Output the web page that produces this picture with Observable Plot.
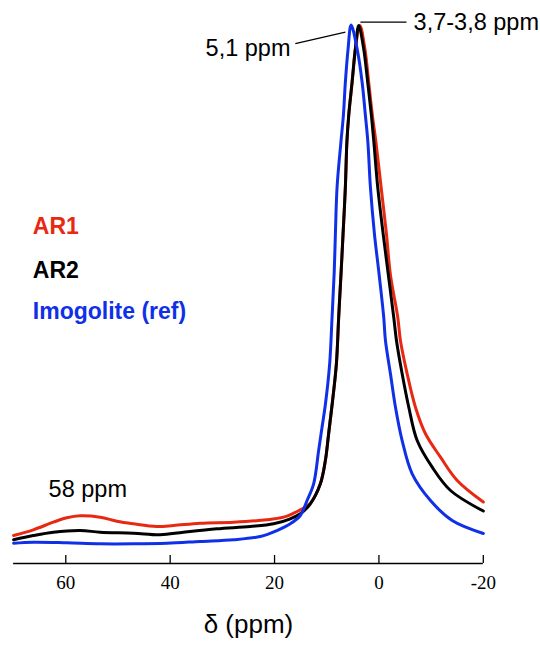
<!DOCTYPE html>
<html><head><meta charset="utf-8">
<script src="https://cdn.jsdelivr.net/npm/d3@7"></script>
<script src="https://cdn.jsdelivr.net/npm/@observablehq/plot@0.6"></script>
<style>body{margin:0;background:#fff}</style>
</head><body><div id="chart"></div>
<script>
// Chemical shift (ppm) and normalized intensity
const ar1Ppm = [70, 66.22, 62.38, 59.81, 57.26, 53.42, 50.22, 47.04, 42.55, 39.36, 34.24, 27.85, 21.45, 18.26, 16.34, 15.06, 13.14, 11.22, 10.26, 9.63, 8.92, 8.15, 7.71, 7.25, 6.87, 6.43, 6.14, 5.79, 5.14, 4.51, 3.64, 2.69, 1.96, 1.25, 0.58, -0.42, -1.44, -2.2, -3.61, -4.12, -5.41, -7.0, -8.92, -11.8, -15.0, -20];
const ar1Int = [5.20, 6.26, 7.68, 8.49, 8.87, 8.61, 7.86, 7.38, 6.88, 7.06, 7.49, 7.68, 8.12, 8.61, 9.35, 9.98, 11.2, 14.81, 19.14, 24.16, 29.93, 37.12, 45.78, 54.09, 61.28, 69.94, 78.25, 83.27, 89.46, 95.67, 100, 95.67, 89.46, 83.27, 78.4, 69.94, 61.28, 53.7, 45.78, 41.45, 35.26, 29.05, 24.11, 19.76, 15.43, 11.43];

const ar2Ppm = [70, 66.22, 62.38, 57.26, 53.42, 47.04, 41.91, 37.45, 31.04, 24.65, 20.18, 16.98, 15.06, 13.14, 11.22, 10.26, 9.63, 8.92, 8.15, 7.71, 7.25, 6.87, 6.43, 6.14, 5.79, 5.14, 4.51, 3.87, 2.92, 2.15, 1.44, 0.96, 0.23, -0.81, -1.82, -2.84, -3.36, -4.45, -5.72, -7.33, -10.21, -13.72, -20];
const ar2Int = [4.41, 5.20, 5.82, 6.13, 5.82, 5.63, 5.33, 5.82, 6.45, 6.88, 7.38, 8.31, 9.24, 11.10, 14.81, 19.14, 24.16, 29.93, 37.12, 45.78, 54.09, 61.28, 69.94, 78.25, 83.27, 89.46, 95.67, 100, 95.67, 89.46, 83.27, 78.25, 69.94, 61.28, 53.53, 45.78, 41.45, 35.26, 29.05, 22.86, 17.90, 13.57, 9.76];

const imoPpm = [70, 66.22, 59.81, 53.42, 47.04, 40.63, 34.24, 27.85, 22.73, 19.53, 16.98, 15.06, 13.77, 12.51, 11.55, 10.90, 10.26, 9.44, 8.98, 8.57, 8.34, 8.02, 7.29, 6.81, 6.43, 5.91, 5.33, 4.18, 3.22, 2.59, 2.11, 1.63, 0.86, -0.06, -0.92, -1.25, -2.21, -3.17, -4.45, -6.37, -9.88, -14.04, -20];
const imoInt = [3.77, 3.96, 3.85, 3.66, 3.66, 3.77, 4.09, 4.41, 5.02, 6.13, 7.38, 8.92, 11.71, 14.81, 21.0, 25.33, 29.55, 37.12, 45.78, 54.09, 61.28, 69.94, 78.25, 83.27, 89.46, 95.67, 100.1, 95.67, 89.46, 83.27, 78.25, 69.94, 61.28, 53.53, 45.78, 41.45, 35.26, 29.05, 22.86, 16.67, 11.71, 7.99, 5.58];

const seriesNames = ["AR1", "AR2", "Imogolite (ref)"];
const seriesColors = ["#e82810", "#000000", "#1030e8"];
const xTicks = [60, 40, 20, 0, -20];

const rows = [];
[[ar1Ppm, ar1Int], [ar2Ppm, ar2Int], [imoPpm, imoInt]].forEach(([p, v], k) => {
  p.forEach((ppm, i) => rows.push({series: seriesNames[k], ppm, intensity: v[i]}));
});

const sans = "Liberation Sans, Arial, sans-serif";
const serif = "Liberation Serif, Times New Roman, serif";

const label = (text, dx, dy, opts = {}) => Plot.text([text], {
  frameAnchor: "top-left", dx, dy, lineAnchor: "middle", textAnchor: "start",
  fontFamily: sans, fontSize: 23.5, fill: "#000", ...opts
});

const chart = Plot.plot({
  width: 540,
  height: 648,
  marginLeft: 13.1,
  marginRight: 57.2,
  marginTop: 25,
  marginBottom: 85,
  style: {fontFamily: serif, fontSize: "19px", background: "#fff", color: "#000"},
  x: {domain: [70, -20], ticks: xTicks, tickSize: 0, tickPadding: 12, tickFormat: d => String(d), label: null},
  y: {domain: [0, 100], axis: null},
  color: {domain: seriesNames, range: seriesColors},
  marks: [
    Plot.ruleY([0], {stroke: "#000", strokeWidth: 1.3}),
    Plot.tickX(xTicks, {x: d => d, insetTop: 530, stroke: "#000", strokeWidth: 1.3}),
    Plot.line(rows, {x: "ppm", y: "intensity", z: "series", stroke: "series", strokeWidth: 3, curve: "catmull-rom"}),
    label(seriesNames[0], 19.2, 201.2, {fill: seriesColors[0], fontWeight: "bold", fontSize: 23}),
    label(seriesNames[1], 19.2, 245.4, {fill: seriesColors[1], fontWeight: "bold", fontSize: 23}),
    label(seriesNames[2], 19.2, 286, {fill: seriesColors[2], fontWeight: "bold", fontSize: 23}),
    label("58 ppm", 35, 463.6),
    label("5,1 ppm", 276.9, 23.4, {textAnchor: "end"}),
    label("3,7-3,8 ppm", 400, -2.8),
    Plot.link([{x1: 16.02, y1: 96.65, x2: 6.43, y2: 98.75}, {x1: 3.55, y1: 100.61, x2: -5.28, y2: 100.61}], {x1: "x1", y1: "y1", x2: "x2", y2: "y2", stroke: "#000", strokeWidth: 1.3}),
    Plot.text(["δ (ppm)"], {frameAnchor: "bottom", dy: 61, lineAnchor: "middle", fontFamily: sans, fontSize: 26, fill: "#000"})
  ]
});
document.getElementById("chart").appendChild(chart);
</script>
</body></html>
